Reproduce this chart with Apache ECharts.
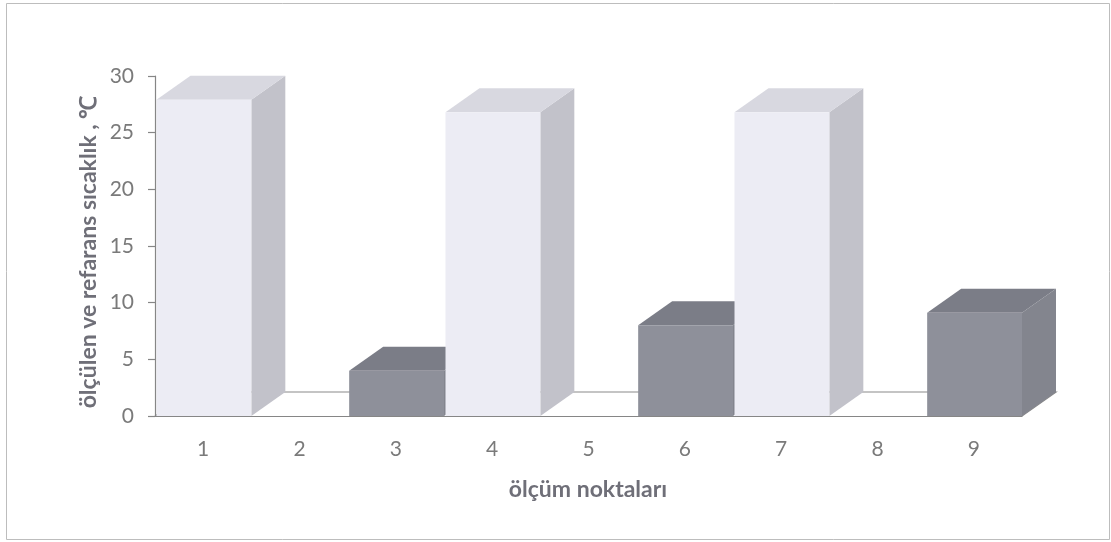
<!DOCTYPE html>
<html>
<head>
<meta charset="utf-8">
<script src="https://cdn.jsdelivr.net/npm/echarts@6/dist/echarts.min.js"></script>
<style>
  html, body { margin: 0; padding: 0; background: #ffffff; }
  #chart { width: 1111px; height: 542px; }
</style>
</head>
<body>
<div id="chart"></div>
<script>
// Measurement points and temperatures (°C)
const categories = ['1', '2', '3', '4', '5', '6', '7', '8', '9'];
const referans = [27.9, 0, 0, 26.8, 0, 0, 26.8, 0, 0];
const olculen  = [0, 0, 4.0, 0, 0, 8.0, 0, 0, 9.1];
const yMin = 0, yMax = 30, yStep = 5;
const yAxisTitle = 'ölçülen ve refarans sıcaklık , ℃';
const xAxisTitle = 'ölçüm noktaları';

// Shading of the three visible faces for each series
const faceColors = [
  { front: '#ececf4', top: '#d8d8e0', side: '#c2c2ca' },
  { front: '#8e909a', top: '#7b7d87', side: '#83858e' }
];
const DEPTH_X = 34, DEPTH_Y = -24;
const FONT = 'Lato, "Open Sans", sans-serif';

// One ordered list so that each column is painted over its left neighbour's side face
const columns = [];
categories.forEach((c, i) => {
  if (referans[i] > 0) columns.push([i, referans[i], 0]);
  if (olculen[i] > 0) columns.push([i, olculen[i], 1]);
});

function renderFloor(params, api) {
  const bw = api.size([1, 0])[0];
  const first = api.coord([0, 0]);
  const last = api.coord([categories.length - 1, 0]);
  const left = first[0] - bw / 2, right = last[0] + bw / 2, y = first[1];
  return {
    type: 'polyline',
    shape: { points: [[left, y], [left + DEPTH_X, y + DEPTH_Y], [right + DEPTH_X, y + DEPTH_Y], [right, y]] },
    style: { stroke: '#8a8a8a', lineWidth: 1.2, fill: null }
  };
}

function renderColumn(params, api) {
  const i = api.value(0), v = api.value(1), k = api.value(2);
  const c = faceColors[k];
  const bw = api.size([1, 0])[0];
  const base = api.coord([i, 0]);
  const top = api.coord([i, v]);
  const x0 = base[0] - bw / 2 + 1.5, x1 = base[0] + bw / 2;
  const y0 = base[1], y1 = top[1];
  return {
    type: 'group',
    children: [
      { type: 'polygon',
        shape: { points: [[x1, y0], [x1 + DEPTH_X, y0 + DEPTH_Y], [x1 + DEPTH_X, y1 + DEPTH_Y], [x1, y1]] },
        style: { fill: c.side } },
      { type: 'polygon',
        shape: { points: [[x0, y1], [x0 + DEPTH_X, y1 + DEPTH_Y], [x1 + DEPTH_X, y1 + DEPTH_Y], [x1, y1]] },
        style: { fill: c.top } },
      { type: 'rect',
        shape: { x: x0, y: y1, width: x1 - x0, height: y0 - y1 },
        style: { fill: c.front } }
    ]
  };
}

const chart = echarts.init(document.getElementById('chart'), null, { renderer: 'canvas' });
chart.setOption({
  animation: false,
  backgroundColor: '#ffffff',
  grid: { left: 155, right: 89, top: 76, bottom: 126 },
  xAxis: {
    type: 'category',
    data: categories,
    z: 5,
    axisLine: { show: true, lineStyle: { color: '#868686', width: 1.2 } },
    axisTick: { show: false },
    axisLabel: { color: '#7a7a7a', fontSize: 21, fontFamily: FONT, margin: 23 },
    splitLine: { show: false }
  },
  yAxis: {
    type: 'value',
    min: yMin, max: yMax, interval: yStep,
    z: 5,
    axisLine: { show: true, lineStyle: { color: '#868686', width: 1.2 } },
    axisTick: { show: true, length: 7, lineStyle: { color: '#868686', width: 1.2 } },
    axisLabel: { color: '#7a7a7a', fontSize: 21, fontFamily: FONT, margin: 21 },
    splitLine: { show: false }
  },
  series: [
    {
      type: 'custom',
      z: 1,
      renderItem: renderFloor,
      encode: { x: 0, y: 1 },
      data: [[0, 0]],
      silent: true
    },
    {
      type: 'custom',
      z: 2,
      renderItem: renderColumn,
      encode: { x: 0, y: 1 },
      data: columns,
      silent: true
    }
  ],
  graphic: [
    {
      type: 'rect',
      shape: { x: 6.5, y: 3.5, width: 1103, height: 536 },
      style: { fill: null, stroke: '#bdbdbd', lineWidth: 1 },
      silent: true
    },
    {
      type: 'text',
      x: 89, y: 252,
      rotation: Math.PI / 2,
      style: {
        text: yAxisTitle, fill: '#6f6f78', fontSize: 23, fontWeight: 'bold', fontFamily: FONT,
        align: 'center', verticalAlign: 'middle'
      },
      silent: true
    },
    {
      type: 'text',
      x: 588, y: 490,
      style: {
        text: xAxisTitle, fill: '#6f6f78', fontSize: 23, fontWeight: 'bold', fontFamily: FONT,
        align: 'center', verticalAlign: 'middle'
      },
      silent: true
    }
  ]
});
</script>
</body>
</html>
